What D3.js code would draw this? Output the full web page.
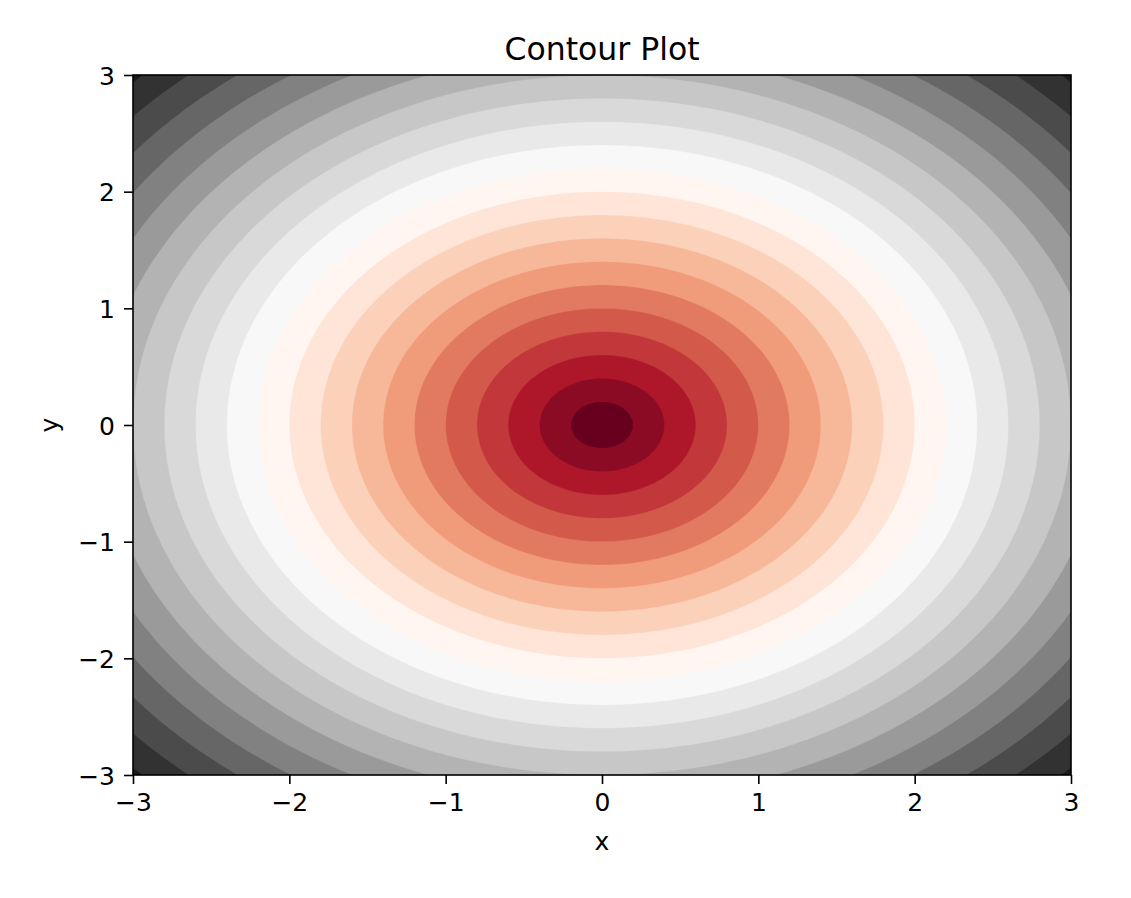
<!DOCTYPE html>
<html>
<head>
<meta charset="utf-8">
<script src="https://cdn.jsdelivr.net/npm/d3@7"></script>
<style>
  html, body { margin: 0; padding: 0; background: #fff; }
  svg { display: block; font-family: "DejaVu Sans", sans-serif; }
</style>
</head>
<body>
<svg id="chart" width="1131" height="898"></svg>
<script>
// ---- data ----
const title = "Contour Plot";
const xLabel = "x";
const yLabel = "y";
const xDomain = [-3, 3];
const yDomain = [-3, 3];
const xTicks = [-3, -2, -1, 0, 1, 2, 3];
const yTicks = [-3, -2, -1, 0, 1, 2, 3];
const gridN = 100; // samples per axis (like np.linspace(-3, 3, 100))
// contour levels of z = sqrt(x^2 + y^2)
const levels = [0, 0.2, 0.4, 0.6, 0.8, 1.0, 1.2, 1.4, 1.6, 1.8, 2.0, 2.2,
                2.4, 2.6, 2.8, 3.0, 3.2, 3.4, 3.6, 3.8, 4.0, 4.2, 4.4];
// RdGy colormap anchors (ColorBrewer)
const cmapColors = ["#67001f", "#b2182b", "#d6604d", "#f4a582", "#fddbc7", "#ffffff",
                    "#e0e0e0", "#bababa", "#878787", "#4d4d4d", "#1a1a1a"];

// ---- layout ----
const margin = { left: 133, top: 75, right: 1071, bottom: 775 };
const svg = d3.select("#chart");

const x = d3.scaleLinear().domain(xDomain).range([margin.left, margin.right]);
const y = d3.scaleLinear().domain(yDomain).range([margin.bottom, margin.top]);

// colormap: linear interpolation between anchors (matplotlib style)
const cmap = d3.scaleLinear()
  .domain(d3.range(cmapColors.length).map(i => i / (cmapColors.length - 1)))
  .range(cmapColors)
  .interpolate(d3.interpolateRgb)
  .clamp(true);
const nBands = levels.length - 1;
const bandColor = i => cmap(nBands === 1 ? 0 : i / (nBands - 1));

// ---- grid values ----
const xs = d3.range(gridN).map(i => xDomain[0] + (xDomain[1] - xDomain[0]) * i / (gridN - 1));
const ys = d3.range(gridN).map(j => yDomain[0] + (yDomain[1] - yDomain[0]) * j / (gridN - 1));
const values = new Array(gridN * gridN);
for (let j = 0; j < gridN; j++) {
  for (let i = 0; i < gridN; i++) {
    values[j * gridN + i] = Math.sqrt(xs[i] * xs[i] + ys[j] * ys[j]);
  }
}

const contours = d3.contours()
  .size([gridN, gridN])
  .thresholds(levels.slice(0, -1))(values);

// map grid coordinates (sample i at i+0.5) to pixels
const gx = d3.scaleLinear().domain([0.5, gridN - 0.5]).range([x(xDomain[0]), x(xDomain[1])]);
const gy = d3.scaleLinear().domain([0.5, gridN - 0.5]).range([y(yDomain[0]), y(yDomain[1])]);
const path = d3.geoPath(d3.geoTransform({
  point: function (px, py) { this.stream.point(gx(px), gy(py)); }
}));

svg.append("clipPath").attr("id", "plotclip")
  .append("rect")
  .attr("x", margin.left).attr("y", margin.top)
  .attr("width", margin.right - margin.left)
  .attr("height", margin.bottom - margin.top);

svg.append("g")
  .attr("clip-path", "url(#plotclip)")
  .selectAll("path")
  .data(contours)
  .join("path")
  .attr("d", path)
  .attr("fill", (d, i) => bandColor(i))
  .attr("stroke", (d, i) => bandColor(i))
  .attr("stroke-width", 0.3);

// ---- axes ----
const fontSize = 25;
const xAxis = svg.append("g")
  .attr("transform", `translate(0,${margin.bottom})`)
  .call(d3.axisBottom(x).tickValues(xTicks).tickSize(9).tickPadding(9).tickFormat(d3.format("d")));
const yAxis = svg.append("g")
  .attr("transform", `translate(${margin.left},0)`)
  .call(d3.axisLeft(y).tickValues(yTicks).tickSize(9).tickPadding(9).tickFormat(d3.format("d")));

[xAxis, yAxis].forEach(a => {
  a.select(".domain").remove();
  a.selectAll(".tick line").attr("stroke", "#000").attr("stroke-width", 1.6);
  a.selectAll(".tick text")
    .attr("fill", "#000")
    .style("font-size", fontSize + "px")
    .style("font-family", "'DejaVu Sans', sans-serif");
});
yAxis.selectAll(".tick text").attr("dy", "0.36em");

// frame
svg.append("rect")
  .attr("x", margin.left).attr("y", margin.top)
  .attr("width", margin.right - margin.left)
  .attr("height", margin.bottom - margin.top)
  .attr("fill", "none")
  .attr("stroke", "#000")
  .attr("stroke-width", 1.6);

// title & labels
svg.append("text")
  .attr("x", (margin.left + margin.right) / 2)
  .attr("y", 60)
  .attr("text-anchor", "middle")
  .style("font-size", "31.5px")
  .attr("fill", "#000")
  .text(title);

svg.append("text")
  .attr("x", (margin.left + margin.right) / 2)
  .attr("y", 850)
  .attr("text-anchor", "middle")
  .style("font-size", fontSize + "px")
  .attr("fill", "#000")
  .text(xLabel);

svg.append("text")
  .attr("transform", `translate(58,${(margin.top + margin.bottom) / 2}) rotate(-90)`)
  .attr("text-anchor", "middle")
  .style("font-size", fontSize + "px")
  .attr("fill", "#000")
  .text(yLabel);
</script>
</body>
</html>
